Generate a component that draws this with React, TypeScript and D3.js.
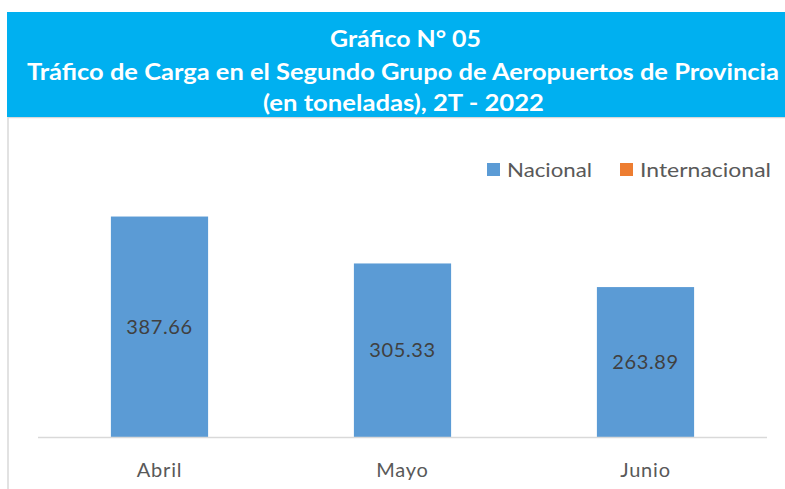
import React from "react";
import * as d3 from "d3";

const categories = ["Abril", "Mayo", "Junio"];
const nacional = [387.66, 305.33, 263.89];
const internacional = [0, 0, 0];
const seriesNames = ["Nacional", "Internacional"];
const seriesColors = ["#5B9BD5", "#ED7D31"];
const titleLines = [
  "Gráfico N° 05",
  "Tráfico de Carga en el Segundo Grupo de Aeropuertos de Provincia",
  "(en toneladas), 2T - 2022",
];

const W = 785;
const H = 489;
const FONT = "Lato, 'Open Sans', sans-serif";

export default function App() {
  const plotLeft = 38;
  const plotRight = 767;
  const plotTop = 181;
  const baseline = 437.5;

  const x = d3.scaleBand().domain(categories).range([plotLeft, plotRight]).paddingInner(0.6).paddingOuter(0.3);
  const y = d3.scaleLinear().domain([0, 450]).range([baseline, plotTop]);

  // title layout: [left, right, baseline]
  const titleBoxes = [
    [330, 481, 47],
    [27, 779, 79.5],
    [263, 544, 111],
  ];

  return (
    <svg width={W} height={H} style={{ position: "absolute", left: 0, top: 0 }}>
      <rect x={0} y={0} width={W} height={H} fill="#fff" />
      {/* chart frame */}
      <line x1={8} x2={8} y1={117} y2={H} stroke="#D9D9D9" strokeWidth={1.5} />
      <line x1={8} x2={W} y1={117.5} y2={117.5} stroke="#D9D9D9" strokeWidth={1.5} />
      {/* header */}
      <rect x={7} y={12} width={W - 7} height={105} fill="#00B0F0" />
      {titleLines.map((t, i) => {
        const [l, r, b] = titleBoxes[i];
        return (
          <text
            key={i}
            x={l}
            y={b}
            textLength={r - l}
            lengthAdjust="spacingAndGlyphs"
            fill="#fff"
            fontFamily={FONT}
            fontWeight="bold"
            fontSize={23.5}
          >
            {t}
          </text>
        );
      })}
      {/* legend */}
      {seriesNames.map((s, i) => {
        const lx = [487, 620][i];
        const len = [85, 131][i];
        return (
          <g key={s}>
            <rect x={lx} y={163} width={13} height={13} fill={seriesColors[i]} />
            <text
              x={lx + 20}
              y={177}
              textLength={len}
              lengthAdjust="spacingAndGlyphs"
              fill="#595959"
              fontFamily={FONT}
              fontSize={20}
            >
              {s}
            </text>
          </g>
        );
      })}
      {/* bars */}
      {categories.map((c, i) => (
        <g key={c}>
          <rect
            x={x(c)!}
            y={y(nacional[i])}
            width={x.bandwidth()}
            height={baseline - y(nacional[i])}
            fill={seriesColors[0]}
          />
          <text
            x={x(c)! + x.bandwidth() / 2}
            y={(y(nacional[i]) + baseline) / 2 + 7}
            textAnchor="middle"
            fill="#404040"
            fontFamily={FONT}
            fontSize={20}
            letterSpacing={0.6}
          >
            {nacional[i].toFixed(2)}
          </text>
          <text
            x={x(c)! + x.bandwidth() / 2}
            y={477}
            textAnchor="middle"
            fill="#595959"
            fontFamily={FONT}
            fontSize={20}
            letterSpacing={0.8}
          >
            {c}
          </text>
        </g>
      ))}
      {/* axis */}
      <line x1={plotLeft} x2={plotRight} y1={baseline} y2={baseline} stroke="#D9D9D9" strokeWidth={1.5} />
    </svg>
  );
}
